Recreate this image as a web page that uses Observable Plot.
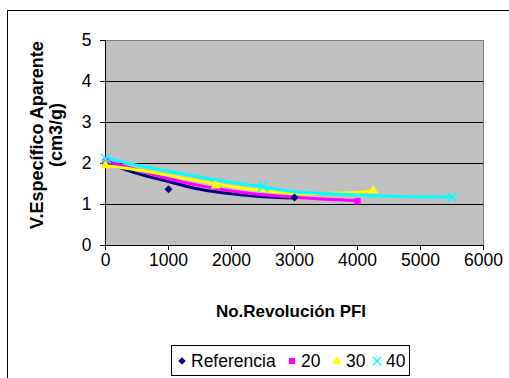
<!DOCTYPE html>
<html>
<head>
<meta charset="utf-8">
<script src="https://cdn.jsdelivr.net/npm/d3@7"></script>
<script src="https://cdn.jsdelivr.net/npm/@observablehq/plot@0.6"></script>
<style>
  html, body { margin: 0; padding: 0; background: #fff; }
  #chart svg { display: block; }
</style>
</head>
<body>
<div id="chart"></div>
<script>
// ---- data ----
const seriesNames = ["Referencia", "20", "30", "40"];
const seriesColors = ["#000080", "#FF00FF", "#FFFF00", "#00FFFF"];
const seriesSymbols = ["diamond2", "square", "triangle", "times"];

const xTicks = [0, 1000, 2000, 3000, 4000, 5000, 6000];
const yTicks = [0, 1, 2, 3, 4, 5];

// trend curves (x = revolutions, y = specific volume)
const refTrendX = [0, 500, 1000, 1500, 2000, 2500, 3000];
const refTrendY = [2.03, 1.76, 1.56, 1.37, 1.26, 1.19, 1.16];
const s20TrendX = [0, 500, 1000, 1500, 2000, 2500, 3000, 3500, 4000];
const s20TrendY = [2.07, 1.84, 1.63, 1.46, 1.33, 1.24, 1.18, 1.13, 1.10];
const s30TrendX = [0, 500, 1000, 1500, 2000, 2500, 3000, 3500, 4000, 4250];
const s30TrendY = [1.95, 1.84, 1.71, 1.57, 1.44, 1.34, 1.27, 1.27, 1.29, 1.34];
const s40TrendX = [0, 500, 1000, 1500, 2000, 2500, 3000, 3500, 4000, 4500, 5000, 5500];
const s40TrendY = [2.13, 1.96, 1.81, 1.67, 1.54, 1.43, 1.31, 1.27, 1.23, 1.20, 1.19, 1.18];

// measured points (markers)
const refPtX = [0, 1000, 3000];
const refPtY = [2.00, 1.37, 1.17];
const s20PtX = [0, 4000];
const s20PtY = [2.05, 1.08];
const s30PtX = [0, 1750, 4250];
const s30PtY = [1.95, 1.46, 1.34];
const s40PtX = [0, 2500, 5500];
const s40PtY = [2.12, 1.44, 1.18];

// ---- build tables ----
const trendX = [refTrendX, s20TrendX, s30TrendX, s40TrendX];
const trendY = [refTrendY, s20TrendY, s30TrendY, s40TrendY];
const ptX = [refPtX, s20PtX, s30PtX, s40PtX];
const ptY = [refPtY, s20PtY, s30PtY, s40PtY];

const trend = [];
const pts = [];
seriesNames.forEach((s, i) => {
  trendX[i].forEach((x, j) => trend.push({series: s, x, y: trendY[i][j]}));
  ptX[i].forEach((x, j) => pts.push({series: s, x, y: ptY[i][j]}));
});

const W = 509, H = 378;
const font = "'Liberation Sans', Arial, sans-serif";

const plot = Plot.plot({
  width: W,
  height: H,
  marginLeft: 105,
  marginRight: 26,
  marginTop: 40,
  marginBottom: 133,
  style: {fontFamily: font, fontSize: "17.5px", color: "#000", background: "#fff"},
  x: {domain: [0, 6000], ticks: xTicks},
  y: {domain: [0, 5], ticks: yTicks},
  color: {domain: seriesNames, range: seriesColors},
  symbol: {domain: seriesNames, range: seriesSymbols},
  marks: [
    Plot.frame({fill: "#C0C0C0", stroke: "#808080"}),
    Plot.gridY(yTicks.filter(d => d > 0 && d < 5), {stroke: "#000", strokeOpacity: 1, strokeWidth: 1}),
    Plot.ruleY([0], {stroke: "#000"}),
    Plot.ruleX([0], {stroke: "#000"}),
    Plot.axisX({ticks: xTicks, tickSize: 5, tickPadding: 3, label: null, fontSize: 17.5, tickFormat: d => String(d)}),
    Plot.axisY({ticks: yTicks, tickSize: 5, tickPadding: 9, label: null, fontSize: 17.5, tickFormat: d => String(d)}),
    Plot.line(trend, {x: "x", y: "y", z: "series", stroke: "series", strokeWidth: 3, curve: "natural"}),
    Plot.dot(pts.filter(d => d.series !== "40"), {x: "x", y: "y", symbol: "series", fill: "series", r: 3.6, stroke: "none"}),
    Plot.dot(pts.filter(d => d.series === "40"), {x: "x", y: "y", symbol: "series", stroke: "series", r: 4.5, strokeWidth: 1.6})
  ]
});

document.getElementById("chart").appendChild(plot);

const svg = d3.select(plot);

// outer chart frame
svg.insert("rect", ":first-child")
  .attr("x", 7.5).attr("y", 10.5).attr("width", 600).attr("height", 600)
  .attr("fill", "#fff").attr("stroke", "#000").attr("stroke-width", 1);

// axis titles
svg.append("text")
  .attr("x", 291).attr("y", 317)
  .attr("text-anchor", "middle")
  .attr("font-family", font).attr("font-weight", "bold").attr("font-size", 17)
  .text("No.Revolución PFI");

const yt = svg.append("text")
  .attr("transform", "translate(43,135) rotate(-90)")
  .attr("text-anchor", "middle")
  .attr("font-family", font).attr("font-weight", "bold").attr("font-size", 18);
yt.append("tspan").attr("x", 0).attr("dy", 0).text("V.Específico Aparente");
yt.append("tspan").attr("x", 0).attr("dy", 19).text("(cm3/g)");

// legend
const lg = svg.append("g");
lg.append("rect")
  .attr("x", 171.5).attr("y", 345.5).attr("width", 238).attr("height", 30)
  .attr("fill", "#fff").attr("stroke", "#000");
const symMap = {diamond2: d3.symbolDiamond2, square: d3.symbolSquare, triangle: d3.symbolTriangle, times: d3.symbolTimes};
const legendX = [182, 292, 337, 377];
seriesNames.forEach((s, i) => {
  const sym = seriesSymbols[i];
  const p = d3.symbol(symMap[sym], sym === "times" ? 50 : 36)();
  const g = lg.append("g").attr("transform", `translate(${legendX[i]},361)`);
  if (sym === "times") {
    g.append("path").attr("d", p).attr("fill", "none").attr("stroke", seriesColors[i]).attr("stroke-width", 1.5);
  } else {
    g.append("path").attr("d", p).attr("fill", seriesColors[i]);
  }
  lg.append("text")
    .attr("x", legendX[i] + 9).attr("y", 367)
    .attr("text-anchor", "start")
    .attr("font-family", font).attr("font-size", 17.5)
    .text(s);
});
</script>
</body>
</html>
